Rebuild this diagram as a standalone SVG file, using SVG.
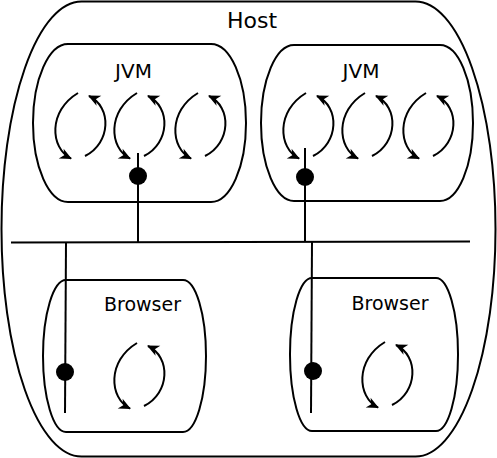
<svg xmlns="http://www.w3.org/2000/svg" xmlns:xlink="http://www.w3.org/1999/xlink" width="497" height="458" viewBox="0 0 497 458">
<style>
.box{fill:#fff;stroke:#000;stroke-width:2}
.ln{fill:none;stroke:#000;stroke-width:2}
.arc{fill:none;stroke:#000;stroke-width:2}
.dot{fill:#000}
text{font-family:"DejaVu Sans",Verdana,sans-serif;fill:#000;text-anchor:middle}
</style>
<defs>
<marker id="ah" markerUnits="userSpaceOnUse" viewBox="-13 -7 15 14" refX="0" refY="0" markerWidth="15" markerHeight="14" orient="auto">
<path d="M1,0 L-11,-5.5 L-7.5,0 L-11,5.5 Z" fill="#000"/>
</marker>
<g id="cyc">
<path class="arc" d="M0,0 C-30,18 -28,55 -7,65.5" marker-end="url(#ah)"/>
<path class="arc" d="M7,63 C33,50 34,14 11,3" marker-end="url(#ah)"/>
</g>
</defs>
<g id="host">
<rect class="box" x="1.5" y="1.5" width="494" height="455" rx="80" ry="227"/>
<text x="252" y="28" font-size="22">Host</text>
</g>
<g id="jvm1">
<rect class="box" x="33" y="44" width="213" height="158" rx="35" ry="79"/>
<text x="133.5" y="78" font-size="20">JVM</text>
<use xlink:href="#cyc" x="78" y="93"/>
<use xlink:href="#cyc" x="137" y="93"/>
<use xlink:href="#cyc" x="198" y="93"/>
</g>
<g id="jvm2">
<rect class="box" x="261" y="45" width="212" height="156" rx="33" ry="78"/>
<text x="361" y="78" font-size="20">JVM</text>
<use xlink:href="#cyc" x="306" y="93"/>
<use xlink:href="#cyc" x="365" y="93"/>
<use xlink:href="#cyc" x="426" y="93"/>
</g>
<g id="browser1">
<rect class="box" x="43" y="280" width="163" height="152" rx="23" ry="76"/>
<text x="142.5" y="311" font-size="19">Browser</text>
<use xlink:href="#cyc" x="137" y="343"/>
</g>
<g id="browser2">
<rect class="box" x="290" y="278" width="168" height="153" rx="22" ry="76"/>
<text x="390" y="310" font-size="19">Browser</text>
<use xlink:href="#cyc" x="385" y="342"/>
</g>
<g id="connectors">
<path class="ln" d="M11,242.5 L470,241.5"/>
<path class="ln" d="M138,153 L138,243"/>
<path class="ln" d="M305,148 L305,242"/>
<path class="ln" d="M66,242 L65,413"/>
<path class="ln" d="M312,241 L311,413"/>
<circle class="dot" cx="138" cy="176" r="9"/>
<circle class="dot" cx="305" cy="177" r="9"/>
<circle class="dot" cx="65" cy="372" r="9"/>
<circle class="dot" cx="313" cy="371" r="9"/>
</g>
</svg>
